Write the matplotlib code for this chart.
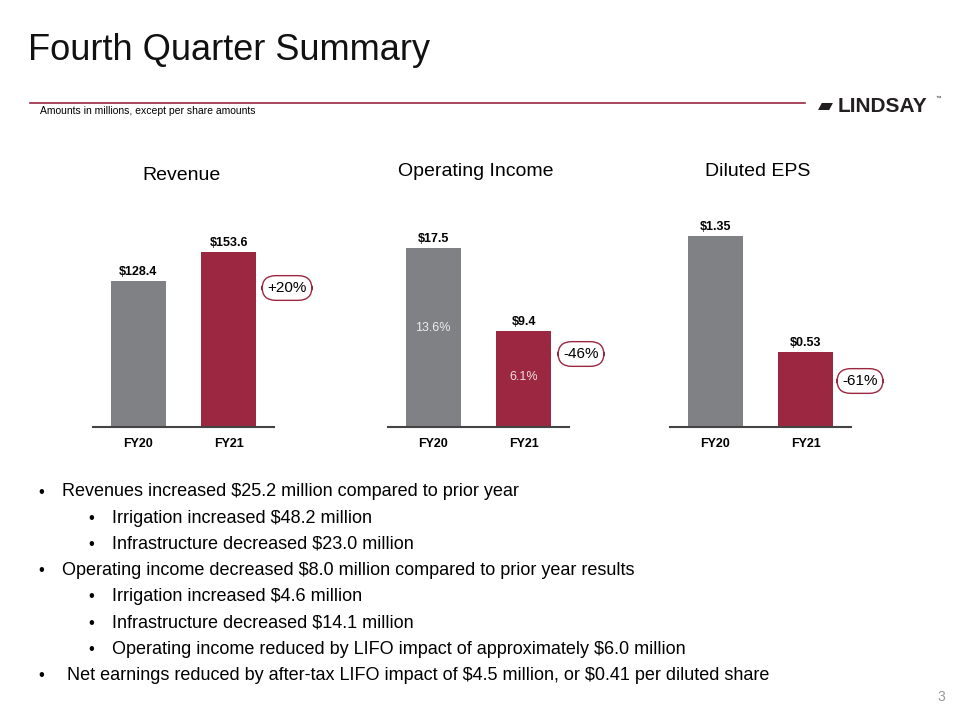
import matplotlib
matplotlib.use("Agg")
import matplotlib.pyplot as plt

periods = ["FY20", "FY21"]
revenue = [128.4, 153.6]
op_income = [17.5, 9.4]
op_margin = ["13.6%", "6.1%"]
eps = [1.35, 0.53]
rev_labels = ["$128.4", "$153.6"]
op_labels = ["$17.5", "$9.4"]
eps_labels = ["$1.35", "$0.53"]
changes = ["+20%", "-46%", "-61%"]
titles = ["Revenue", "Operating Income", "Diluted EPS"]
bullets = [
    (0, "Revenues increased $25.2 million compared to prior year"),
    (1, "Irrigation increased $48.2 million"),
    (1, "Infrastructure decreased $23.0 million"),
    (0, "Operating income decreased $8.0 million compared to prior year results"),
    (1, "Irrigation increased $4.6 million"),
    (1, "Infrastructure decreased $14.1 million"),
    (1, "Operating income reduced by LIFO impact of approximately $6.0 million"),
    (0, " Net earnings reduced by after-tax LIFO impact of $4.5 million, or $0.41 per diluted share"),
]

GRAY = "#808184"
RED = "#9B2740"
plt.rcParams['font.family'] = ['Liberation Sans', 'DejaVu Sans']
plt.rcParams['text.parse_math'] = False
W, H = 960, 720
fig = plt.figure(figsize=(9.6, 7.2), dpi=100)
fx = lambda x: x / W
fy = lambda y: 1 - y / H

fig.text(fx(28), fy(50), "Fourth Quarter Summary", fontsize=26, va="center", color="#111111")
fig.add_artist(plt.Line2D([fx(30), fx(805)], [fy(103), fy(103)], color=RED, lw=1.2))
fig.text(fx(40), fy(111), "Amounts in millions, except per share amounts", fontsize=7.5, va="center")
fig.text(fx(818), fy(106), "▰", fontsize=14, color="#231F20", va="center")
fig.text(fx(838), fy(106), "LINDSAY", fontsize=15, fontweight="bold",
         color="#231F20", ha="left", va="center")
fig.text(fx(936), fy(100), "™", fontsize=4, color="#231F20")

data = [revenue, op_income, eps]
labels = [rev_labels, op_labels, eps_labels]
lefts = [93, 388, 670]
tops = [1.137, 10.23, 141.5]
title_y = [175, 172, 172]
circ = [(287, 288), (581, 354), (860, 381)]
for i in range(3):
    ax = fig.add_axes([fx(lefts[i]), fy(427), 181 / W, 227 / H])
    ax.bar([0, 1], data[i], width=0.61, color=[GRAY, RED])
    ax.set_xlim(-0.5, 1.5)
    ax.set_ylim(0, 227 / tops[i])
    for s in ["top", "right", "left"]:
        ax.spines[s].set_visible(False)
    ax.spines["bottom"].set_color("#444444")
    ax.spines["bottom"].set_linewidth(1.5)
    ax.set_yticks([])
    ax.set_xticks([0, 1])
    ax.set_xticklabels(periods, fontsize=9, fontweight="bold")
    ax.tick_params(axis="x", length=0, pad=8)
    for j, v in enumerate(data[i]):
        ax.text(j, v + 3 / tops[i], labels[i][j], ha="center", va="bottom", fontsize=9, fontweight="bold")
    if i == 1:
        for j, v in enumerate(data[i]):
            ax.text(j, v - 8 / tops[i] * 10 if j == 0 else v - 4.5, op_margin[j], ha="center",
                    va="center", color="white", fontsize=9, alpha=0.85)
    fig.text(fx(lefts[i] + 88), fy(title_y[i]), titles[i], fontsize=14, ha="center", va="center")
    fig.text(fx(circ[i][0]), fy(circ[i][1]), changes[i], fontsize=11, ha="center", va="center",
             bbox=dict(boxstyle="round,pad=0.35,rounding_size=0.9", fc="white", ec=RED, lw=1))

y = 492
for lvl, t in bullets:
    xb = 38 if lvl == 0 else 88
    fig.text(fx(xb), fy(y), "•", fontsize=12, va="center")
    fig.text(fx(xb + 24), fy(y), t, fontsize=13, va="center")
    y += 26.2
fig.text(fx(937), fy(697), "3", fontsize=10, color="#999999", va="center")
fig.savefig("out.png", dpi=100)
